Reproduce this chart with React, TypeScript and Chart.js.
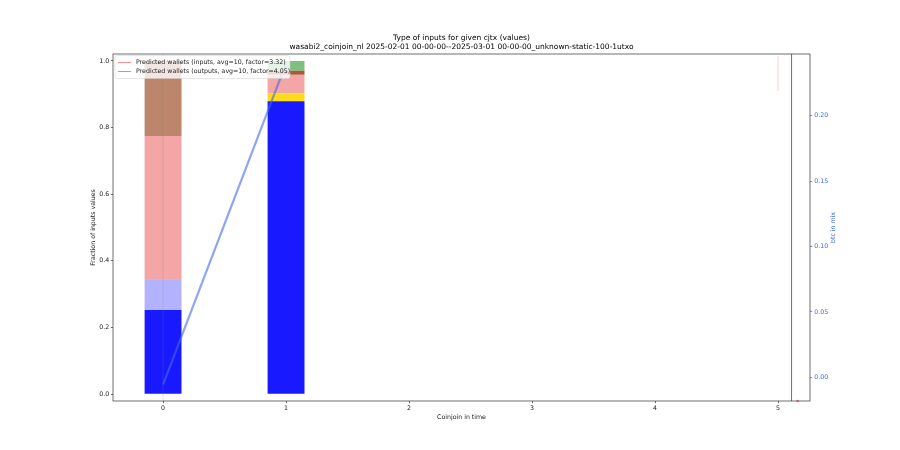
import { useEffect, useRef } from 'react';
import { Chart, registerables } from 'chart.js';

Chart.register(...registerables);

const FONT = '"DejaVu Sans", sans-serif';
const INK = '#222';
const BTC_BLUE = '#4169e1';

const TITLE_LINES = [
  'Type of inputs for given cjtx (values)',
  'wasabi2_coinjoin_nl 2025-02-01 00-00-00--2025-03-01 00-00-00_unknown-static-100-1utxo',
];

// coinjoin positions on the x axis
const coinjoinIndex = [0, 1];

// fraction of input values per coinjoin, stacked bottom to top
const fracBlue = [0.252, 0.879];
const fracLightBlue = [0.092, 0];
const fracYellow = [0, 0.024];
const fracPink = [0.431, 0.056];
const fracLightBrown = [0.225, 0];
const fracDarkBrown = [0, 0.012];
const fracGreen = [0, 0.029];

// btc in mix (right axis)
const btcInMix = [-0.0056, 0.24];

const xTicks = [0, 1, 2, 3, 4, 5];
const leftTicks = [0, 0.2, 0.4, 0.6, 0.8, 1.0];
const rightTicks = [0, 0.05, 0.1, 0.15, 0.2];

const X_MIN = -0.407;
const X_MAX = 5.26;
const Y_MIN = -0.021;
const Y_MAX = 1.021;
const Y2_MIN = -0.0181;
const Y2_MAX = 0.2472;

// other marks seen in the plot
const guideX = 0;
const separatorX = 5.11;
const predictedInputsX = 5;
const predictedInputsSpan = [0.91, 1.015];
const strayPointX = 5.16;

const legendLabels = [
  'Predicted wallets (inputs, avg=10, factor=3.32)',
  'Predicted wallets (outputs, avg=10, factor=4.05)',
];
const legendColors = ['rgba(255,0,0,0.45)', 'rgba(0,128,0,0.5)'];

const barSeries: [number[], string][] = [
  [fracBlue, 'rgba(0,0,255,0.9)'],
  [fracLightBlue, 'rgba(0,0,255,0.3)'],
  [fracYellow, 'rgba(255,215,0,0.9)'],
  [fracPink, 'rgba(240,128,128,0.7)'],
  [fracLightBrown, 'rgba(160,82,45,0.7)'],
  [fracDarkBrown, 'rgba(160,82,45,0.95)'],
  [fracGreen, 'rgba(0,128,0,0.5)'],
];

const fixTicks = (values: number[]) => (scale: any) => {
  scale.ticks = values.map((value) => ({ value }));
};

const framePlugin = {
  id: 'frame',
  afterDatasetsDraw(chart: any) {
    const { ctx, chartArea: a } = chart;
    ctx.save();
    ctx.strokeStyle = '#333';
    ctx.lineWidth = 0.7;
    ctx.strokeRect(a.left, a.top, a.right - a.left, a.bottom - a.top);
    ctx.restore();
  },
};

const overlayPlugin = {
  id: 'overlay',
  afterDraw(chart: any) {
    const { ctx, chartArea: a } = chart;
    ctx.save();
    // legend box, matplotlib style
    const bx = a.left + 2;
    const by = a.top + 1.5;
    const bw = 175;
    const bh = 23;
    ctx.beginPath();
    ctx.roundRect(bx, by, bw, bh, 2);
    ctx.fillStyle = 'rgba(255,255,255,0.8)';
    ctx.fill();
    ctx.strokeStyle = 'rgba(204,204,204,0.8)';
    ctx.lineWidth = 0.6;
    ctx.stroke();
    ctx.font = `6.25px ${FONT}`;
    ctx.textBaseline = 'middle';
    ctx.textAlign = 'left';
    legendLabels.forEach((label, i) => {
      const y = by + 7 + i * 9;
      ctx.strokeStyle = legendColors[i];
      ctx.lineWidth = 1;
      ctx.beginPath();
      ctx.moveTo(bx + 3, y);
      ctx.lineTo(bx + 16, y);
      ctx.stroke();
      ctx.fillStyle = INK;
      ctx.fillText(label, bx + 21, y);
    });
    // right axis label, reads bottom to top
    ctx.translate(833, (a.top + a.bottom) / 2);
    ctx.rotate(-Math.PI / 2);
    ctx.textAlign = 'center';
    ctx.fillStyle = BTC_BLUE;
    ctx.fillText('btc in mix', 0, 0);
    ctx.restore();
  },
};

export default function App() {
  const canvasRef = useRef<HTMLCanvasElement>(null);
  const chartRef = useRef<Chart | null>(null);

  useEffect(() => {
    if (!canvasRef.current) return;
    if (chartRef.current) chartRef.current.destroy();

    const bars = barSeries.map(([values, color]) => ({
      type: 'bar' as const,
      data: coinjoinIndex.map((x, i) => ({ x, y: values[i] })),
      backgroundColor: color,
      borderWidth: 0,
      categoryPercentage: 1,
      barPercentage: 0.3,
      yAxisID: 'y',
      order: 2,
    }));

    const tickFont = { family: FONT, size: 6.25 };

    chartRef.current = new Chart(canvasRef.current, {
      type: 'bar',
      data: {
        datasets: [
          ...bars,
          {
            type: 'line',
            data: coinjoinIndex.map((x, i) => ({ x, y: btcInMix[i] })),
            borderColor: 'rgba(65,105,225,0.6)',
            borderWidth: 2.2,
            pointRadius: 0,
            yAxisID: 'y2',
            order: 1,
          },
          {
            type: 'line',
            data: [
              { x: guideX, y: Y_MIN },
              { x: guideX, y: Y_MAX },
            ],
            borderColor: 'rgba(128,128,128,0.3)',
            borderWidth: 0.7,
            pointRadius: 0,
            yAxisID: 'yo',
            order: 1,
          },
          {
            type: 'line',
            data: [
              { x: separatorX, y: Y_MIN },
              { x: separatorX, y: Y_MAX },
            ],
            borderColor: '#333',
            borderWidth: 0.7,
            pointRadius: 0,
            yAxisID: 'yo',
            order: 1,
          },
          {
            type: 'line',
            data: predictedInputsSpan.map((y) => ({ x: predictedInputsX, y })),
            borderColor: 'rgba(255,0,0,0.25)',
            borderWidth: 0.8,
            pointRadius: 0,
            yAxisID: 'yo',
            order: 1,
          },
          {
            type: 'scatter',
            data: [{ x: strayPointX, y: Y_MIN }],
            backgroundColor: 'rgba(240,80,80,0.7)',
            borderWidth: 0,
            pointRadius: 1.3,
            yAxisID: 'yo',
            clip: false,
            order: 1,
          },
        ] as any,
      },
      options: {
        responsive: false,
        animation: false,
        layout: { padding: 0 },
        plugins: {
          legend: { display: false },
          tooltip: { enabled: false },
          title: {
            display: true,
            text: TITLE_LINES,
            fullSize: false,
            color: '#000',
            font: { family: FONT, size: 7.5, weight: 'normal', lineHeight: 1.2 },
            padding: { top: 34, bottom: 2 },
          },
        },
        scales: {
          x: {
            type: 'linear',
            min: X_MIN,
            max: X_MAX,
            offset: false,
            stacked: true,
            afterBuildTicks: fixTicks(xTicks),
            afterFit: (s: any) => {
              s.height = 49;
            },
            grid: {
              offset: false,
              drawOnChartArea: false,
              drawTicks: true,
              tickLength: 2.2,
              color: '#333',
              lineWidth: 0.7,
            },
            border: { display: false },
            ticks: { font: tickFont, color: INK, padding: 1.5, maxRotation: 0, callback: (v: any) => String(v) },
            title: {
              display: true,
              text: 'Coinjoin in time',
              color: INK,
              font: { family: FONT, size: 6.25, lineHeight: 1.2 },
              padding: { top: 0, bottom: 29 },
            },
          },
          y: {
            type: 'linear',
            position: 'left',
            stacked: true,
            min: Y_MIN,
            max: Y_MAX,
            afterBuildTicks: fixTicks(leftTicks),
            afterFit: (s: any) => {
              s.width = 113;
            },
            grid: { drawOnChartArea: false, drawTicks: true, tickLength: 2.2, color: '#333', lineWidth: 0.7 },
            border: { display: false },
            ticks: { font: tickFont, color: INK, padding: 1.5, callback: (v: any) => Number(v).toFixed(1) },
            title: {
              display: true,
              text: 'Fraction of inputs values',
              color: INK,
              font: { family: FONT, size: 6.25, lineHeight: 1.2 },
              padding: { top: 90, bottom: 0 },
            },
          },
          y2: {
            type: 'linear',
            position: 'right',
            min: Y2_MIN,
            max: Y2_MAX,
            afterBuildTicks: fixTicks(rightTicks),
            afterFit: (s: any) => {
              s.width = 90;
            },
            grid: { drawOnChartArea: false, drawTicks: true, tickLength: 2.2, color: BTC_BLUE, lineWidth: 0.7 },
            border: { display: false },
            ticks: { font: tickFont, color: BTC_BLUE, padding: 2, callback: (v: any) => Number(v).toFixed(2) },
          },
          yo: {
            type: 'linear',
            display: false,
            min: Y_MIN,
            max: Y_MAX,
          },
        },
      } as any,
      plugins: [framePlugin, overlayPlugin],
    });

    return () => chartRef.current?.destroy();
  }, []);

  return (
    <div style={{ position: 'fixed', left: 0, top: 0, width: 900, height: 450, background: '#fff' }}>
      <canvas ref={canvasRef} width={900} height={450} style={{ display: 'block' }} />
    </div>
  );
}
